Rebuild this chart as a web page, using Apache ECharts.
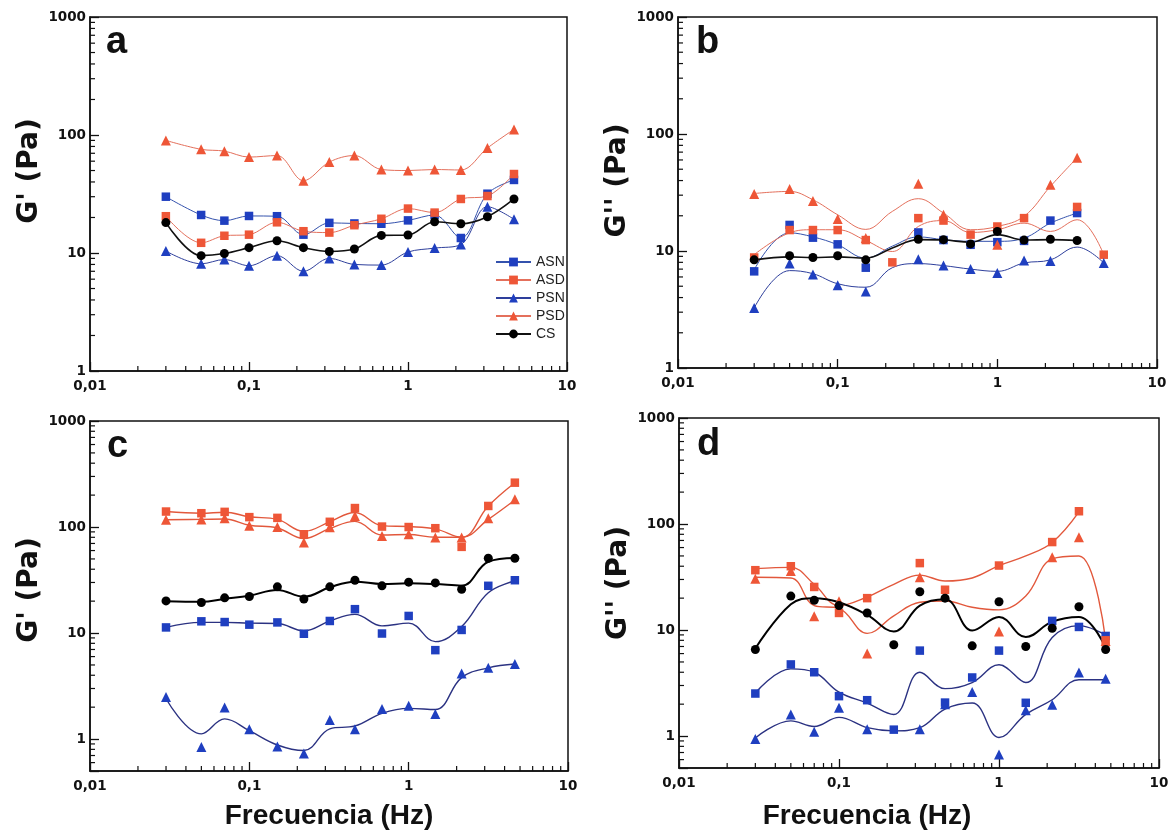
<!DOCTYPE html>
<html>
<head>
<meta charset="utf-8">
<script src="https://cdn.jsdelivr.net/npm/echarts@6/dist/echarts.min.js"></script>
<style>
  html, body { margin: 0; padding: 0; background: #fff; }
  #chart { width: 1174px; height: 835px; }
</style>
</head>
<body>
<div id="chart"></div>
<script>
// ---------------- DATA ----------------
const freq = [0.03, 0.05, 0.07, 0.1, 0.15, 0.22, 0.32, 0.46, 0.68, 1, 1.47, 2.15, 3.16, 4.64];
const xTickLabels = ['0,01', '0,1', '1', '10'];
const yTickLabels = ['1', '10', '100', '1000'];
const minorTicksX = [0.02,0.03,0.04,0.05,0.06,0.07,0.08,0.09,0.2,0.3,0.4,0.5,0.6,0.7,0.8,0.9,2,3,4,5,6,7,8,9];
const minorTicksY = [2,3,4,5,6,7,8,9,20,30,40,50,60,70,80,90,200,300,400,500,600,700,800,900];
const minorTicksYLow = [0.6,0.7,0.8,0.9];
const seriesNames = ['ASN', 'ASD', 'PSN', 'PSD', 'CS'];
const panelLetters = ['a', 'b', 'c', 'd'];
const yTitles = ["G' (Pa)", "G'' (Pa)", "G' (Pa)", "G'' (Pa)"];
const xTitle = 'Frecuencia (Hz)';

// panel a: G' (lines pass through points)
const a_ASN = [30, 21, 18.8, 20.6, 20.5, 14.3, 18, 17.8, 17.7, 18.9, 21, 13.4, 31.8, 41.6];
const a_ASD = [20.5, 12.2, 14, 14.3, 18.2, 15.3, 14.9, 17.2, 19.5, 23.8, 22, 28.7, 30.4, 46.7];
const a_PSN = [10.4, 8.1, 8.8, 7.8, 9.5, 7.0, 9.0, 8.0, 7.9, 10.2, 11, 11.8, 24.7, 19.3];
const a_PSD = [90, 75.6, 73, 65, 67, 41, 59, 67, 51, 50, 51, 50.5, 77.6, 111.6];
const a_CS  = [18.1, 9.5, 9.9, 11.1, 12.7, 11.1, 10.3, 10.8, 14.1, 14.2, 18.4, 17.7, 20.3, 28.7];

// panel b: G'' points and fitted curves
const b_ASN = [6.7, 16.7, 13, 11.4, 7.2, null, 14.4, 12.4, 11.3, 11.9, 12.2, 18.2, 21.1, null];
const b_ASD = [8.8, 15.1, 15.1, 15.1, 12.4, 8.0, 19.1, 18.2, 13.8, 16.2, 19.1, null, 23.8, 9.3];
const b_PSN = [3.25, 7.8, 6.3, 5.1, 4.5, null, 8.5, 7.5, 7.0, 6.5, 8.3, 8.2, null, 7.9];
const b_PSD = [30.7, 33.9, 26.8, 18.8, 12.9, null, 37.6, 20.4, null, 11.3, null, 36.9, 62.7, null];
const b_CS  = [8.4, 9.1, 8.8, 9.1, 8.4, null, 12.6, 12.5, 11.5, 14.7, 12.4, 12.6, 12.3, null];
const b_ASN_fit = [6.9, 14.3, 13.2, 11.3, 8.7, 11, 13.2, 12.5, 12.1, 12.1, 12.9, 17.3, 21.1, null];
const b_ASD_fit = [9.3, 14.3, 15.2, 15.2, 12.3, 9.9, 16.2, 18.2, 14.4, 15.2, 17.3, 14.7, 18.5, 9.3];
const b_PSN_fit = [3.26, 6.8, 6.4, 5.25, 4.9, 7.2, 7.8, 7.5, 7.0, 6.7, 7.9, 8.4, 10.8, 7.9];
const b_PSD_fit = [31, 32.3, 27.4, 20.4, 15.3, 21.8, 28, 21.1, 15.2, 16.2, 19.8, 35.7, 62.7, null];
const b_CS_fit  = [8.4, 8.9, 8.8, 8.9, 8.7, 10.6, 12.5, 12.4, 11.9, 13.8, 12.4, 12.5, 12.3, null];

// panel c: G'
const c_ASN = [11.3, 12.9, 12.7, 12.0, 12.6, 9.85, 13.0, 16.8, 9.9, 14.5, 6.9, 10.7, 27.9, 31.5];
const c_ASD = [140, 135, 139, 124, 122, 85.5, 112, 151, 101, 100, 97.5, 65, 158, 262];
const c_PSN = [2.5, 0.84, 1.99, 1.24, 0.85, 0.73, 1.51, 1.24, 1.92, 2.06, 1.72, 4.16, 4.7, 5.1];
const c_PSD = [117, 118, 121, 103, 100, 71.4, 99.6, 127, 82.5, 85.5, 79.5, 79.5, 121, 183];
const c_CS  = [20.1, 19.4, 21.5, 22.1, 27.3, 20.9, 27.3, 31.5, 27.9, 30.2, 29.7, 25.9, 50.8, 50.8];
const c_ASN_fit = [11.3, 12.6, 12.6, 12.4, 12.3, 10.5, 13, 15, 11.7, 12.4, 8.3, 11.5, 24, 31];
const c_ASD_fit = [140, 135, 138, 125, 118, 91, 112, 137, 103, 101, 96, 80, 158, 262];
const c_PSN_fit = [2.4, 1.12, 1.55, 1.2, 0.88, 0.78, 1.25, 1.33, 1.75, 1.95, 1.9, 3.8, 4.7, 5.1];
const c_PSD_fit = [117, 118, 119, 104, 98, 78, 97, 113, 84, 85, 80, 80, 118, 180];
const c_CS_fit  = [20, 19.7, 21, 22.5, 25.5, 22, 27, 30.5, 29, 29.5, 29, 28, 47, 51];

// panel d: G''
const d_ASN = [2.52, 4.74, 4.0, 2.38, 2.18, 1.15, 6.4, 2.07, 3.57, 6.4, 2.06, 12.2, 10.7, 8.8];
const d_ASD = [36.7, 40, 25.5, 14.5, 20, null, 42.8, 24, null, 40.6, null, 67.6, 132, 8.0];
const d_PSN = [0.94, 1.6, 1.1, 1.85, 1.16, null, 1.16, 2.0, 2.6, 0.67, 1.75, 1.98, 3.98, 3.47];
const d_PSD = [30.4, 36, 13.5, 18.7, 6.0, null, 31.5, null, null, 9.7, null, 48.7, 75, 7.9];
const d_CS  = [6.56, 20.9, 19.1, 17, 14.5, 7.26, 23, 20, 7.1, 18.5, 7.0, 10.4, 16.6, 6.56];
const d_ASN_fit = [2.55, 4.3, 4.0, 2.6, 2.05, 1.6, 4.0, 2.8, 3.2, 4.7, 3.2, 8.5, 11, 9];
const d_ASD_fit = [38, 39, 27, 17, 20.5, 27, 33, 29, 31, 40.5, 50, 67, 130, null];
const d_PSN_fit = [0.96, 1.39, 1.23, 1.5, 1.2, 1.12, 1.2, 1.8, 2.05, 0.97, 1.6, 2.2, 3.4, 3.4];
const d_PSD_fit = [31.5, 31, 17, 16, 9.3, 13.6, 18.3, 18.8, 16.4, 15.5, 21, 47, 50, 8];
const d_CS_fit  = [6.7, 17.5, 20, 18.3, 13.9, 9.7, 17, 19.5, 9.9, 13.3, 8.6, 12, 13.3, 6.8];

// ---------------- STYLE ----------------
const BLUE = '#1f3fc0', RED = '#ee5637', BLACK = '#000';
const styles = {
  ASN: { symbol: 'rect',     size: 8.5, color: BLUE,  lineA: '#3452ad', line: '#2b3282' },
  ASD: { symbol: 'rect',     size: 8.5, color: RED,   lineA: '#e4705c', line: '#e2583c' },
  PSN: { symbol: 'triangle', size: 10,  color: BLUE,  lineA: '#2e3f9c', line: '#2b3282' },
  PSD: { symbol: 'triangle', size: 10,  color: RED,   lineA: '#e4705c', line: '#e2583c' },
  CS:  { symbol: 'circle',   size: 9,   color: BLACK, lineA: '#111',    line: '#000' }
};
const SANS = "'Liberation Sans', Arial, Helvetica, sans-serif";

const grids = [
  { left: 90,  top: 17,  width: 477, height: 354 },
  { left: 678, top: 17,  width: 479, height: 351 },
  { left: 90,  top: 421, width: 478, height: 350 },
  { left: 679, top: 418, width: 480, height: 350 }
];
const yMins = [1, 1, 0.5, 0.5];
const yNamePad = [46, 24, 12, 20];

function pts(vals) {
  return freq.map((f, i) => (vals[i] == null ? null : [f, vals[i]])).filter(p => p);
}
function logLabel(labels, offset) {
  return function (v) {
    const l = Math.log10(v);
    const e = Math.round(l);
    if (Math.abs(l - e) > 1e-6) return '';
    return labels[e + offset] || '';
  };
}

const tickFont = { fontFamily: 'DejaVu Sans', fontWeight: 'bold', fontSize: 13.5, color: '#111' };

const xAxes = grids.map((g, i) => ({
  type: 'log', logBase: 10, gridIndex: i, min: 0.01, max: 10,
  axisLine: { lineStyle: { color: '#111', width: 1.5 } },
  axisTick: { inside: true, length: 9, lineStyle: { color: '#111', width: 1.3 } },
  axisLabel: Object.assign({ margin: 8, formatter: logLabel(xTickLabels, 2) }, tickFont),
  splitLine: { show: false },
  minorTick: { show: false },
  name: i >= 2 ? xTitle : '',
  nameLocation: 'middle',
  nameGap: i === 2 ? 31 : 34,
  nameTextStyle: {
    fontFamily: SANS, fontWeight: 'bold', fontSize: 28, color: '#111',
    padding: i === 3 ? [0, 104, 0, 0] : [0, 0, 0, 0]
  }
}));

const yAxes = grids.map((g, i) => ({
  type: 'log', logBase: 10, gridIndex: i, min: yMins[i], max: 1000,
  axisLine: { lineStyle: { color: '#111', width: 1.5 } },
  axisTick: { inside: true, length: 9, lineStyle: { color: '#111', width: 1.3 } },
  axisLabel: Object.assign({ margin: 4, formatter: logLabel(yTickLabels, 0) }, tickFont),
  splitLine: { show: false },
  name: yTitles[i],
  nameLocation: 'middle',
  nameRotate: 90,
  nameGap: 46,
  nameTextStyle: {
    fontFamily: 'DejaVu Sans', fontWeight: 'bold', fontSize: 28, color: '#111',
    padding: [0, 0, 0, yNamePad[i]]
  }
}));

const series = [];

// minor ticks, positioned through the axes' own scales
grids.forEach((g, i) => {
  const data = [];
  minorTicksX.forEach(v => data.push([v, yMins[i], 0]));
  minorTicksY.forEach(v => data.push([0.01, v, 1]));
  if (yMins[i] < 1) minorTicksYLow.forEach(v => data.push([0.01, v, 1]));
  series.push({
    type: 'custom', xAxisIndex: i, yAxisIndex: i, silent: true, clip: false, z: 5,
    data: data,
    renderItem: function (params, api) {
      const p = api.coord([api.value(0), api.value(1)]);
      const isX = api.value(2) === 0;
      return {
        type: 'line',
        shape: isX ? { x1: p[0], y1: p[1], x2: p[0], y2: p[1] - 5 }
                   : { x1: p[0], y1: p[1], x2: p[0] + 5, y2: p[1] },
        style: { stroke: '#111', lineWidth: 1.2 }
      };
    }
  });
});

// panel a: lines with markers
const panelA = { ASN: a_ASN, ASD: a_ASD, PSN: a_PSN, PSD: a_PSD, CS: a_CS };
seriesNames.forEach(n => {
  const s = styles[n];
  series.push({
    type: 'line', name: n, xAxisIndex: 0, yAxisIndex: 0,
    data: pts(panelA[n]), smooth: 0.35,
    symbol: s.symbol, symbolSize: s.size, showSymbol: true,
    itemStyle: { color: s.color },
    lineStyle: { color: s.lineA, width: n === 'CS' ? 1.6 : 1 },
    z: n === 'CS' ? 12 : 10
  });
});

// panels b, c, d: fitted curves + scatter points
const panels = [
  null,
  { pts: { ASN: b_ASN, ASD: b_ASD, PSN: b_PSN, PSD: b_PSD, CS: b_CS },
    fit: { ASN: b_ASN_fit, ASD: b_ASD_fit, PSN: b_PSN_fit, PSD: b_PSD_fit, CS: b_CS_fit }, lw: 1, lwCS: 1.6 },
  { pts: { ASN: c_ASN, ASD: c_ASD, PSN: c_PSN, PSD: c_PSD, CS: c_CS },
    fit: { ASN: c_ASN_fit, ASD: c_ASD_fit, PSN: c_PSN_fit, PSD: c_PSD_fit, CS: c_CS_fit }, lw: 1.4, lwCS: 2 },
  { pts: { ASN: d_ASN, ASD: d_ASD, PSN: d_PSN, PSD: d_PSD, CS: d_CS },
    fit: { ASN: d_ASN_fit, ASD: d_ASD_fit, PSN: d_PSN_fit, PSD: d_PSD_fit, CS: d_CS_fit }, lw: 1.4, lwCS: 2 }
];
for (let i = 1; i < 4; i++) {
  const P = panels[i];
  seriesNames.forEach(n => {
    const s = styles[n];
    series.push({
      type: 'line', name: panelLetters[i] + '-' + n + '-fit', xAxisIndex: i, yAxisIndex: i,
      data: pts(P.fit[n]), smooth: 0.4, symbol: 'none', showSymbol: false,
      lineStyle: { color: i === 1 ? s.lineA : s.line, width: n === 'CS' ? P.lwCS : P.lw },
      z: 8
    });
    series.push({
      type: 'scatter', name: panelLetters[i] + '-' + n, xAxisIndex: i, yAxisIndex: i,
      data: pts(P.pts[n]), symbol: s.symbol, symbolSize: s.size,
      itemStyle: { color: s.color, opacity: 1 },
      z: 10
    });
  });
}

const letterPos = [[106, 24], [696, 24], [107, 428], [697, 426]];
const titles = letterPos.map((p, i) => ({
  text: panelLetters[i], left: p[0], top: p[1], padding: 0,
  textStyle: { fontFamily: SANS, fontWeight: 'bold', fontSize: 38, color: '#111' }
}));

const option = {
  animation: false,
  backgroundColor: '#ffffff',
  title: titles,
  legend: {
    orient: 'vertical', left: 490, top: 250,
    itemWidth: 35, itemHeight: 11, itemGap: 4,
    selectedMode: false,
    data: seriesNames,
    textStyle: { fontFamily: SANS, fontSize: 14, color: '#222' }
  },
  grid: grids.map(g => Object.assign({ show: true, borderColor: '#111', borderWidth: 1.5, backgroundColor: 'transparent' }, g)),
  xAxis: xAxes,
  yAxis: yAxes,
  series: series
};

const chart = echarts.init(document.getElementById('chart'), null, { renderer: 'canvas' });
chart.setOption(option);
</script>
</body>
</html>
